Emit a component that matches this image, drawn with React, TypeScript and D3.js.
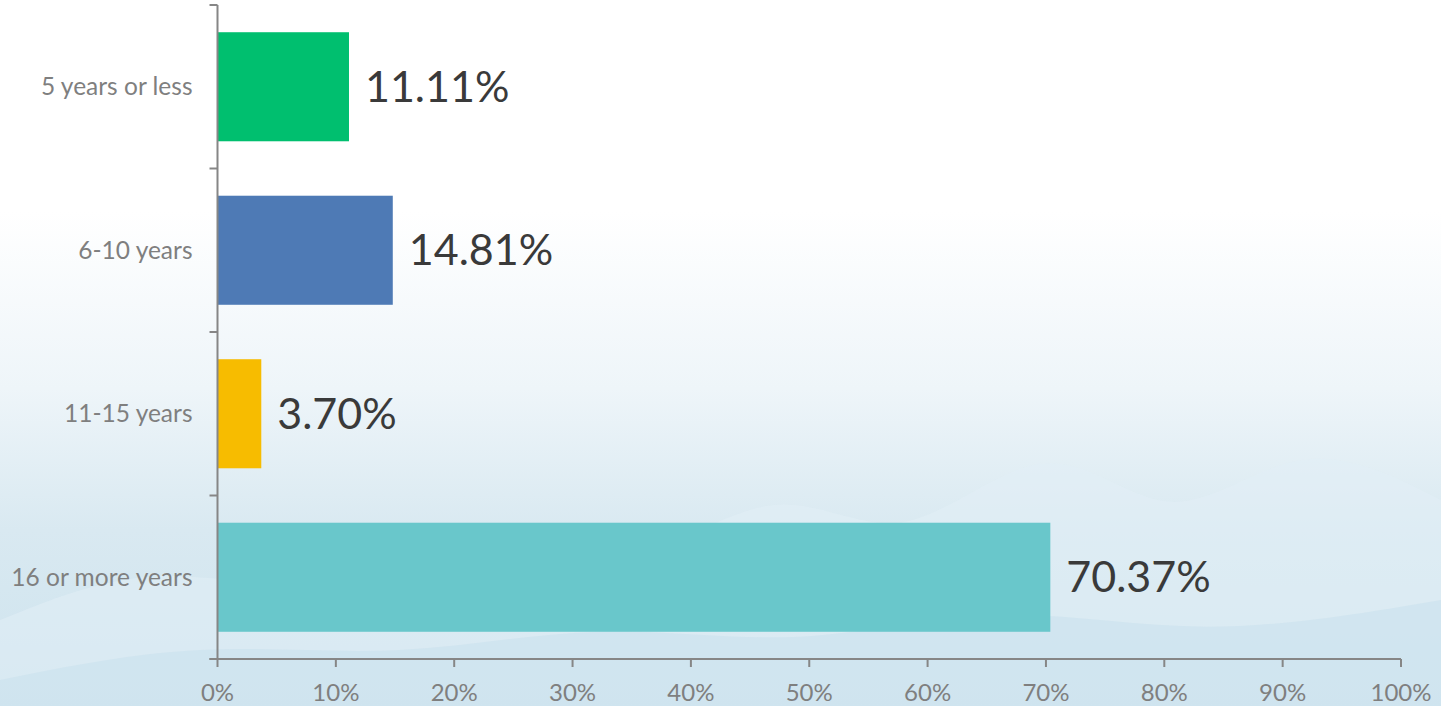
import React, { useEffect, useRef } from 'react'
import * as d3 from 'd3'

const categories = ['5 years or less', '6-10 years', '11-15 years', '16 or more years']
const values = [11.11, 14.81, 3.7, 70.37]
const barColors = ['#00bf6f', '#4e7ab5', '#f7bc00', '#69c7cb']
const xTicks = [0, 10, 20, 30, 40, 50, 60, 70, 80, 90, 100]

const W = 1441
const H = 706
const FONT = 'Lato, "Open Sans", sans-serif'

export default function App() {
  const svgRef = useRef<SVGSVGElement>(null)

  useEffect(() => {
    if (!svgRef.current) return
    const svg = d3.select(svgRef.current)
    svg.selectAll('*').remove()

    const left = 217.5
    const right = 1401
    const top = 5
    const bottom = 659

    const defs = svg.append('defs')
    const grad = defs
      .append('linearGradient')
      .attr('id', 'water')
      .attr('x1', 0)
      .attr('y1', 0)
      .attr('x2', 0)
      .attr('y2', 1)
    grad.append('stop').attr('offset', '0%').attr('stop-color', '#ffffff')
    grad.append('stop').attr('offset', '30%').attr('stop-color', '#ffffff')
    grad.append('stop').attr('offset', '55%').attr('stop-color', '#eef5f9')
    grad.append('stop').attr('offset', '75%').attr('stop-color', '#d9e9f1')
    grad.append('stop').attr('offset', '100%').attr('stop-color', '#cde3ee')

    svg.append('rect').attr('width', W).attr('height', H).attr('fill', 'url(#water)')

    // soft splash waves in the background
    const wave = d3.line<[number, number]>().curve(d3.curveBasis)
    const crests: [number, number][][] = [
      [[0, 620], [150, 560], [300, 600], [450, 520], [620, 590], [780, 470], [900, 560], [1050, 420], [1170, 540], [1300, 430], [1441, 500]],
      [[0, 680], [200, 640], [400, 660], [600, 620], [800, 650], [1000, 600], [1200, 640], [1441, 600]],
    ]
    crests.forEach((pts, i) => {
      svg
        .append('path')
        .attr('d', (wave(pts) || '') + `L${W},${H}L0,${H}Z`)
        .attr('fill', i === 0 ? '#e1eef5' : '#c9e0ec')
        .attr('opacity', 0.55)
    })

    const x = d3.scaleLinear().domain([0, 100]).range([left, right])
    const y = d3
      .scaleBand<string>()
      .domain(categories)
      .range([top, bottom])
      .paddingInner(0.333)
      .paddingOuter(0.1665)

    // bars
    svg
      .append('g')
      .selectAll('rect')
      .data(values)
      .join('rect')
      .attr('x', x(0))
      .attr('y', (_, i) => y(categories[i])!)
      .attr('width', (d) => x(d) - x(0))
      .attr('height', y.bandwidth())
      .attr('fill', (_, i) => barColors[i])

    // value labels
    svg
      .append('g')
      .selectAll('text')
      .data(values)
      .join('text')
      .attr('x', (d) => x(d) + 16)
      .attr('y', (_, i) => y(categories[i])! + y.bandwidth() / 2)
      .attr('dy', '0.35em')
      .style('font-family', FONT)
      .style('font-size', '43px')
      .style('fill', '#3a3a3a')
      .text((d) => d.toFixed(2) + '%')

    const axisColor = '#868686'

    // y axis
    const yg = svg.append('g')
    yg.append('line')
      .attr('x1', left)
      .attr('x2', left)
      .attr('y1', top)
      .attr('y2', bottom)
      .attr('stroke', axisColor)
      .attr('stroke-width', 2)
    const bandEdges = categories.map((c) => y(c)! - (y.step() * y.paddingInner()) / 2)
    ;[...bandEdges, bottom].forEach((e) => {
      yg.append('line')
        .attr('x1', left - 8)
        .attr('x2', left)
        .attr('y1', e)
        .attr('y2', e)
        .attr('stroke', axisColor)
        .attr('stroke-width', 2)
    })
    yg.selectAll('text')
      .data(categories)
      .join('text')
      .attr('x', left - 25)
      .attr('y', (c) => y(c)! + y.bandwidth() / 2)
      .attr('dy', '0.35em')
      .attr('text-anchor', 'end')
      .style('font-family', FONT)
      .style('font-size', '24.5px')
      .style('fill', '#7f7f7f')
      .text((c) => c)

    // x axis
    const xg = svg.append('g')
    xg.append('line')
      .attr('x1', left - 8)
      .attr('x2', right)
      .attr('y1', bottom)
      .attr('y2', bottom)
      .attr('stroke', axisColor)
      .attr('stroke-width', 2)
    xTicks.forEach((t) => {
      xg.append('line')
        .attr('x1', x(t))
        .attr('x2', x(t))
        .attr('y1', bottom)
        .attr('y2', bottom + 8)
        .attr('stroke', axisColor)
        .attr('stroke-width', 2)
      xg.append('text')
        .attr('x', x(t))
        .attr('y', 701)
        .attr('text-anchor', 'middle')
        .style('font-family', FONT)
        .style('font-size', '24px')
        .style('fill', '#7f7f7f')
        .text(`${t}%`)
    })
  }, [])

  return (
    <div style={{ position: 'fixed', left: 0, top: 0, width: W, height: H, overflow: 'hidden' }}>
      <svg ref={svgRef} width={W} height={H} style={{ display: 'block' }} />
    </div>
  )
}
